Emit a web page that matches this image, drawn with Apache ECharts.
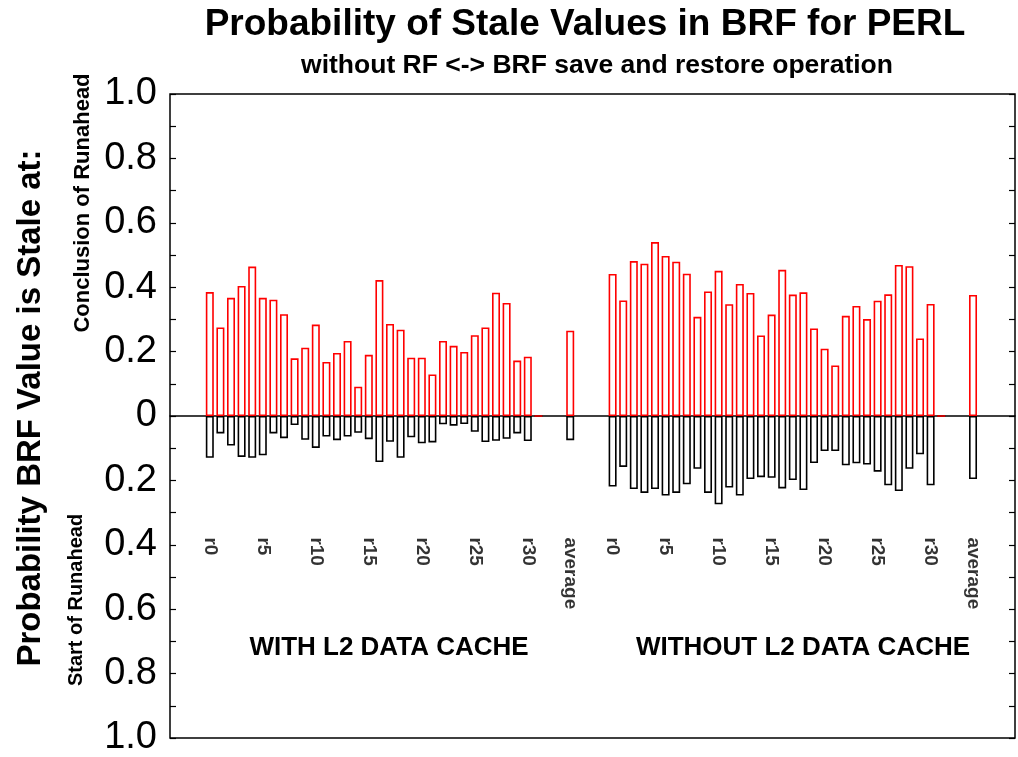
<!DOCTYPE html>
<html>
<head>
<meta charset="utf-8">
<script src="https://cdn.jsdelivr.net/npm/echarts@6/dist/echarts.min.js"></script>
<style>
  html, body { margin: 0; padding: 0; background: #fff; }
  #chart { width: 1018px; height: 757px; }
</style>
</head>
<body>
<div id="chart"></div>
<script>
// Benchmark categories (r0..r31 plus the average column)
const benchNames = ['r0','r1','r2','r3','r4','r5','r6','r7','r8','r9','r10','r11','r12','r13','r14','r15',
  'r16','r17','r18','r19','r20','r21','r22','r23','r24','r25','r26','r27','r28','r29','r30','r31','average'];
// Names that get a printed label under the bars
const shownNames = ['r0','r5','r10','r15','r20','r25','r30','average'];
const groupNames = ['WITH L2 DATA CACHE', 'WITHOUT L2 DATA CACHE'];

// Probability a BRF value is stale at the conclusion of runahead (upper bars)
const withL2Conclusion = [0.385, 0.275, 0.367, 0.404, 0.464, 0.367, 0.361, 0.316, 0.179, 0.212, 0.284, 0.168,
  0.196, 0.233, 0.091, 0.190, 0.422, 0.286, 0.268, 0.181, 0.181, 0.129, 0.233, 0.218, 0.199, 0.251, 0.275,
  0.383, 0.351, 0.172, 0.184, 0, 0.265];
const withoutL2Conclusion = [0.441, 0.359, 0.481, 0.473, 0.540, 0.497, 0.479, 0.442, 0.308, 0.387, 0.451, 0.347,
  0.410, 0.382, 0.250, 0.315, 0.454, 0.377, 0.384, 0.272, 0.209, 0.157, 0.311, 0.342, 0.301, 0.358, 0.378,
  0.469, 0.465, 0.241, 0.348, 0, 0.376];
// Probability a BRF value is stale at the start of runahead (lower bars)
const withL2Start = [0.130, 0.054, 0.092, 0.127, 0.130, 0.122, 0.054, 0.069, 0.028, 0.074, 0.099, 0.064,
  0.075, 0.064, 0.052, 0.072, 0.143, 0.080, 0.130, 0.066, 0.085, 0.082, 0.026, 0.030, 0.025, 0.049, 0.081,
  0.077, 0.071, 0.054, 0.078, 0, 0.075];
const withoutL2Start = [0.219, 0.158, 0.227, 0.239, 0.227, 0.247, 0.239, 0.212, 0.164, 0.239, 0.274, 0.222,
  0.247, 0.196, 0.190, 0.192, 0.225, 0.199, 0.230, 0.146, 0.109, 0.109, 0.153, 0.147, 0.151, 0.173, 0.215,
  0.233, 0.164, 0.119, 0.215, 0, 0.196];

// Slot layout along the x axis: 32 benchmarks, two empty slots, then the average;
// the second group starts after three more empty slots.
const GROUP_OFFSET = [0, 38];
function slotOf(group, i) {
  const inGroup = i < 32 ? i : 34;
  return GROUP_OFFSET[group] + inGroup;
}

function barData(values, group, sign) {
  return values.map((v, i) => [slotOf(group, i), sign * v]);
}

const conclusionData = barData(withL2Conclusion, 0, 1).concat(barData(withoutL2Conclusion, 1, 1));
const startData = barData(withL2Start, 0, -1).concat(barData(withoutL2Start, 1, -1));

const LABEL_Y = -0.377;
const labelData = [];
[0, 1].forEach(g => {
  benchNames.forEach((n, i) => {
    if (shownNames.includes(n)) labelData.push({ name: n, value: [slotOf(g, i), LABEL_Y] });
  });
});

const FONT = '"Liberation Sans", Arial, Helvetica, sans-serif';

const chart = echarts.init(document.getElementById('chart'), null, { renderer: 'canvas' });

const yTicks = {
  show: true, inside: true, length: 6,
  lineStyle: { color: '#000', width: 1.2 }
};
const yMinor = {
  show: true, splitNumber: 2, length: 6,
  lineStyle: { color: '#000', width: 1.2 }
};

chart.setOption({
  animation: false,
  backgroundColor: '#fff',
  grid: {
    left: 170, right: 3, top: 94, bottom: 18,
    show: true, borderColor: '#000', borderWidth: 1.5, backgroundColor: 'transparent'
  },
  xAxis: {
    type: 'value', min: -3.755, max: 75.96,
    axisLine: { show: true, onZero: true, lineStyle: { color: '#000', width: 1.5 } },
    axisTick: { show: false }, axisLabel: { show: false }, splitLine: { show: false }
  },
  yAxis: [
    {
      type: 'value', min: -1, max: 1, interval: 0.2, position: 'left',
      axisLine: { show: false, onZero: false },
      axisTick: yTicks, minorTick: yMinor,
      splitLine: { show: false }, minorSplitLine: { show: false },
      axisLabel: {
        margin: 13, color: '#000', fontFamily: FONT, fontSize: 38,
        formatter: v => Math.abs(v) < 1e-9 ? '0' : Math.abs(v).toFixed(1)
      }
    },
    {
      type: 'value', min: -1, max: 1, interval: 0.2, position: 'right',
      axisLine: { show: false, onZero: false },
      axisTick: yTicks, minorTick: yMinor,
      splitLine: { show: false }, axisLabel: { show: false }
    }
  ],
  series: [
    {
      name: 'Conclusion of Runahead', type: 'bar', data: conclusionData,
      barWidth: 8, barGap: '-100%',
      itemStyle: { color: '#fff', borderColor: '#ff0000', borderWidth: 1.6 },
      z: 3
    },
    {
      name: 'Start of Runahead', type: 'bar', data: startData,
      barWidth: 8, barGap: '-100%',
      itemStyle: { color: '#fff', borderColor: '#000', borderWidth: 1.6 },
      z: 2
    },
    {
      type: 'scatter', data: labelData, symbolSize: 0, silent: true,
      label: {
        show: true, position: 'inside', formatter: '{b}', rotate: -90,
        align: 'left', verticalAlign: 'middle',
        color: '#000', fontFamily: FONT, fontWeight: 'bold', fontSize: 19
      }
    }
  ],
  graphic: [
    {
      type: 'text', x: 585, y: 25,
      style: { text: 'Probability of Stale Values in BRF for PERL', fill: '#000',
        font: 'bold 37px ' + FONT, textAlign: 'center', textVerticalAlign: 'middle' }
    },
    {
      type: 'text', x: 597, y: 66,
      style: { text: 'without RF <-> BRF save and restore operation', fill: '#000',
        font: 'bold 26.5px ' + FONT, textAlign: 'center', textVerticalAlign: 'middle' }
    },
    {
      type: 'text', x: 31, y: 408, rotation: Math.PI / 2,
      style: { text: 'Probability BRF Value is Stale at:', fill: '#000',
        font: 'bold 33px ' + FONT, textAlign: 'center', textVerticalAlign: 'middle' }
    },
    {
      type: 'text', x: 83, y: 203, rotation: Math.PI / 2,
      style: { text: 'Conclusion of Runahead', fill: '#000',
        font: 'bold 22px ' + FONT, textAlign: 'center', textVerticalAlign: 'middle' }
    },
    {
      type: 'text', x: 76, y: 600, rotation: Math.PI / 2,
      style: { text: 'Start of Runahead', fill: '#000',
        font: 'bold 20px ' + FONT, textAlign: 'center', textVerticalAlign: 'middle' }
    },
    {
      type: 'text', x: 389, y: 648,
      style: { text: groupNames[0], fill: '#000',
        font: 'bold 26px ' + FONT, textAlign: 'center', textVerticalAlign: 'middle' }
    },
    {
      type: 'text', x: 803, y: 648,
      style: { text: groupNames[1], fill: '#000',
        font: 'bold 26px ' + FONT, textAlign: 'center', textVerticalAlign: 'middle' }
    }
  ]
});
</script>
</body>
</html>
